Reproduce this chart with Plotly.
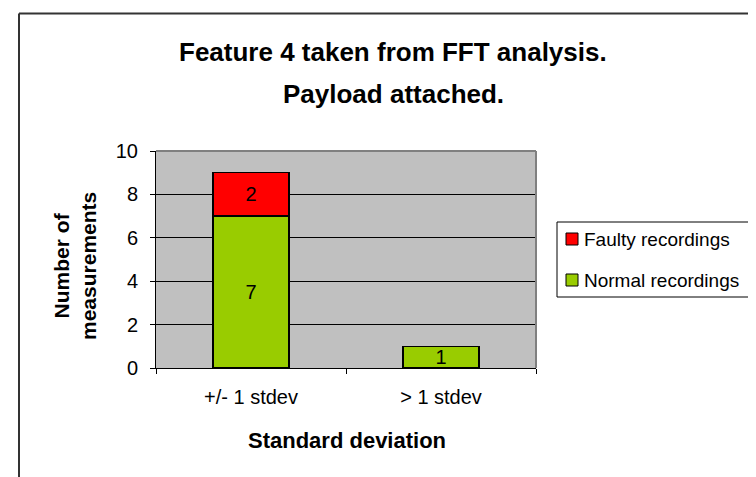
import plotly.graph_objects as go

categories = ["+/- 1 stdev", "> 1 stdev"]
normal = [7, 1]
faulty = [2, 0]
faulty_text = ["2", ""]
normal_text = ["7", "1"]
series_names = ["Faulty recordings", "Normal recordings"]
title_lines = ["Feature 4 taken from FFT analysis.", "Payload attached."]
x_title = "Standard deviation"
y_title_lines = ["Number of", "measurements"]

RED = "#FF0000"
GREEN = "#99CC00"
FONT = "Liberation Sans, Arial, sans-serif"
L, R, T, B = 148, 528, 143, 360
W, H = 756, 477

fig = go.Figure()
fig.add_trace(go.Bar(
    x=categories, y=normal, name=series_names[1], showlegend=False,
    marker=dict(color=GREEN, line=dict(color="black", width=1.5)),
    text=normal_text, textposition="inside", insidetextanchor="middle",
    textfont=dict(color="black", size=20, family=FONT), textangle=0,
    constraintext="none", width=0.4,
))
fig.add_trace(go.Bar(
    x=categories, y=faulty, name=series_names[0], showlegend=False,
    marker=dict(color=RED, line=dict(color="black", width=1.5)),
    text=faulty_text, textposition="inside", insidetextanchor="middle",
    textfont=dict(color="black", size=20, family=FONT), textangle=0,
    constraintext="none", width=0.4,
))

pw, ph = R - L, B - T
def px(x):
    return (x - L) / pw
def py(y):
    return (B - y) / ph

fig.update_layout(
    width=W, height=H,
    barmode="stack",
    paper_bgcolor="white", plot_bgcolor="#C0C0C0",
    margin=dict(l=L, r=W - R, t=T, b=H - B, autoexpand=False),
    font=dict(family=FONT, color="black", size=20),
    showlegend=False,
)

# title (two lines)
for line, yc in zip(title_lines, [44, 86]):
    fig.add_annotation(
        text="<b>" + line + "</b>", xref="paper", yref="paper",
        x=px(385), y=py(yc), xanchor="center", yanchor="middle",
        showarrow=False, font=dict(size=26, family=FONT, color="black"),
    )
# axis titles
fig.add_annotation(
    text="<b>" + x_title + "</b>", xref="paper", yref="paper",
    x=px(339), y=py(432), xanchor="center", yanchor="middle",
    showarrow=False, font=dict(size=22, family=FONT, color="black"),
)
fig.add_annotation(
    text="<b>" + "<br>".join(y_title_lines) + "</b>", xref="paper", yref="paper",
    x=px(67), y=py(258), xanchor="center", yanchor="middle", textangle=-90,
    showarrow=False, font=dict(size=21, family=FONT, color="black"),
)

# legend (drawn box, swatches and labels)
fig.add_shape(type="rect", xref="paper", yref="paper",
              x0=px(549), x1=px(743), y0=py(214), y1=py(289),
              line=dict(color="black", width=1), fillcolor="white", layer="above")
for name, col, yc in zip(series_names, [RED, GREEN], [231, 272]):
    fig.add_shape(type="rect", xref="paper", yref="paper",
                  x0=px(558), x1=px(570), y0=py(yc - 6), y1=py(yc + 6),
                  line=dict(color="black", width=1), fillcolor=col, layer="above")
    fig.add_annotation(
        text=name, xref="paper", yref="paper",
        x=px(574), y=py(yc), xanchor="left", yanchor="middle",
        showarrow=False, font=dict(size=19, family=FONT, color="black"),
    )

fig.update_xaxes(
    showline=True, linecolor="black", linewidth=1,
    ticks="outside", ticklen=5, tickcolor="black", tickson="boundaries",
    tickfont=dict(size=20, family=FONT), showgrid=False, ticklabelstandoff=11,
)
fig.update_yaxes(
    range=[0, 10], dtick=2, showline=True, linecolor="black", linewidth=1,
    ticks="outside", ticklen=5, tickcolor="black",
    showgrid=True, gridcolor="black", gridwidth=1, zeroline=False,
    tickfont=dict(size=20, family=FONT), ticklabelstandoff=8,
)
# plot area border (top/right)
fig.add_shape(type="line", xref="paper", yref="paper", x0=0, x1=1, y0=1, y1=1,
              line=dict(color="#808080", width=2), layer="above")
fig.add_shape(type="line", xref="paper", yref="paper", x0=1, x1=1, y0=0, y1=1,
              line=dict(color="#808080", width=2), layer="above")
# chart area border (top/left visible)
fig.add_shape(type="line", xref="paper", yref="paper",
              x0=px(11), x1=px(W + 5), y0=py(5.5), y1=py(5.5),
              line=dict(color="#333333", width=2), layer="above")
fig.add_shape(type="line", xref="paper", yref="paper",
              x0=px(11), x1=px(11), y0=py(5.5), y1=py(H + 5),
              line=dict(color="#333333", width=2), layer="above")

fig.write_html("out.html")
